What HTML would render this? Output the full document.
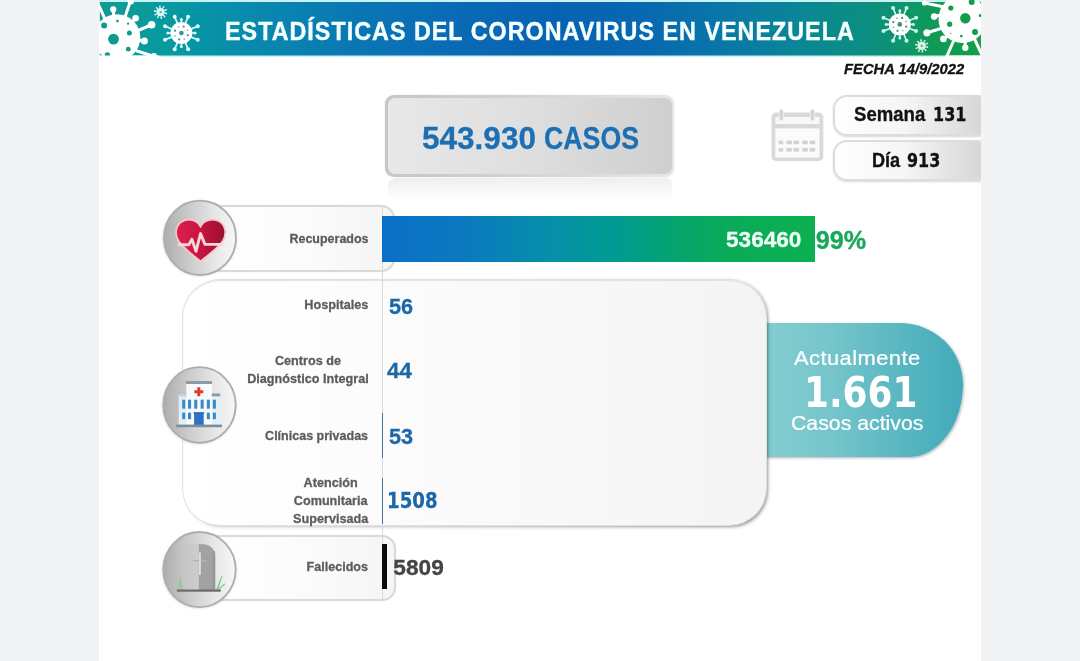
<!DOCTYPE html>
<html lang="es">
<head>
<meta charset="utf-8">
<title>Estadísticas del Coronavirus en Venezuela</title>
<style>
html,body{margin:0;padding:0;}
body{width:1080px;height:661px;overflow:hidden;background:#f2f3f5;font-family:"Liberation Sans",sans-serif;position:relative;}
.abs{position:absolute;}
.sp{display:inline-block;transform-origin:0 50%;white-space:pre;}
.t{position:absolute;white-space:nowrap;line-height:1;font-weight:bold;-webkit-text-stroke:.3px currentColor;}
#sheet{left:99px;top:0;width:882px;height:661px;background:#fff;overflow:hidden;}
.pill{border:2px solid #d9d9d9;box-shadow:0 0 1px #d4d4d4;background:linear-gradient(90deg,#fff 0%,#fbfbfb 55%,#f5f5f5 100%);box-sizing:border-box;}
.circle{width:75px;height:76px;border-radius:50%;background:linear-gradient(90deg,#b4b4b4 0%,#d2d2d2 45%,#f6f6f6 100%);box-shadow:0 0 0 1.5px #b9b9b9, 0 2px 3px rgba(0,0,0,.15);}
.lbl{position:absolute;font-weight:bold;color:#5c5c5c;-webkit-text-stroke:.3px #5c5c5c;font-size:13.5px;line-height:18px;text-align:center;white-space:nowrap;transform-origin:100% 50%;transform:scaleX(.937);}
.num{color:#1b67a8;font-size:22.3px;}
.dj{font-family:"DejaVu Sans","Liberation Sans",sans-serif;}
</style>
</head>
<body>
<div class="abs" id="sheet"></div>
<div class="abs" style="left:0;top:0;width:1080px;height:661px;clip-path:inset(0 99px 0 99px);">

<svg class="abs" style="left:99px;top:0;" width="882" height="58" viewBox="99 0 882 58">
<defs>
<linearGradient id="bg" x1="99" x2="981" y1="0" y2="0" gradientUnits="userSpaceOnUse">
<stop offset="0" stop-color="#0f9b92"/>
<stop offset="0.08" stop-color="#069aa0"/>
<stop offset="0.16" stop-color="#088cac"/>
<stop offset="0.28" stop-color="#0a78b4"/>
<stop offset="0.40" stop-color="#0a6ab6"/>
<stop offset="0.52" stop-color="#0862b2"/>
<stop offset="0.62" stop-color="#0868b0"/>
<stop offset="0.72" stop-color="#0a79a6"/>
<stop offset="0.80" stop-color="#0a8794"/>
<stop offset="0.87" stop-color="#0b8e80"/>
<stop offset="0.92" stop-color="#0e9668"/>
<stop offset="0.95" stop-color="#109a54"/>
<stop offset="1" stop-color="#12a04a"/>
</linearGradient>
<clipPath id="bc"><rect x="99" y="0" width="882" height="57"/></clipPath>
</defs>
<rect x="99" y="0" width="882" height="57" fill="#c9f3f3"/>
<rect x="100" y="2" width="881" height="53.5" fill="url(#bg)"/>
<g clip-path="url(#bc)">
<!-- left big virus -->
<g stroke="#fff" stroke-width="3" stroke-linecap="round" fill="none">
<line x1="114" y1="20" x2="113.3" y2="10"/>
<line x1="125" y1="17" x2="130.5" y2="1"/>
<line x1="132" y1="22" x2="135.5" y2="18.5"/>
<line x1="138" y1="30.500" x2="151" y2="25"/>
<line x1="139" y1="40" x2="144" y2="41"/>
<line x1="137" y1="51" x2="156" y2="57"/>
<line x1="105" y1="19" x2="99" y2="6"/>
</g>
<g fill="#fff">
<circle cx="113.3" cy="9.4" r="3.1"/>
<circle cx="130.8" cy="1.2" r="3.3"/>
<circle cx="135.6" cy="18.3" r="3.3"/>
<circle cx="151.6" cy="24.8" r="3.8"/>
<circle cx="144.4" cy="41" r="3.5"/>
<circle cx="154" cy="56" r="3"/>
<circle cx="117" cy="37.5" r="23.3"/>
</g>
<g fill="#0f9a90">
<circle cx="113.5" cy="39.1" r="5.4"/>
<circle cx="104.1" cy="25.5" r="3"/>
<circle cx="129.4" cy="33.1" r="2.5"/>
<circle cx="128.3" cy="49.2" r="2.4"/>
<circle cx="117.4" cy="21.1" r="1.4"/>
<circle cx="128.1" cy="23.7" r="1.1"/>
<circle cx="107.4" cy="55" r="2.7"/>
</g>
<rect x="99" y="55.5" width="60" height="2.5" fill="#fff"/>
<line x1="189.5" y1="36.4" x2="197.7" y2="39.7" stroke="#dffafa" stroke-width="1.7" stroke-linecap="round"/>
<circle cx="197.7" cy="39.7" r="2.0" fill="#dffafa"/>
<line x1="184.8" y1="41.1" x2="188.1" y2="49.3" stroke="#dffafa" stroke-width="1.7" stroke-linecap="round"/>
<circle cx="188.1" cy="49.3" r="2.0" fill="#dffafa"/>
<line x1="178.0" y1="41.1" x2="174.7" y2="49.3" stroke="#dffafa" stroke-width="1.7" stroke-linecap="round"/>
<circle cx="174.7" cy="49.3" r="2.0" fill="#dffafa"/>
<line x1="173.3" y1="36.4" x2="165.1" y2="39.7" stroke="#dffafa" stroke-width="1.7" stroke-linecap="round"/>
<circle cx="165.1" cy="39.7" r="2.0" fill="#dffafa"/>
<line x1="173.3" y1="29.6" x2="165.1" y2="26.3" stroke="#dffafa" stroke-width="1.7" stroke-linecap="round"/>
<circle cx="165.1" cy="26.3" r="2.0" fill="#dffafa"/>
<line x1="178.0" y1="24.9" x2="174.7" y2="16.7" stroke="#dffafa" stroke-width="1.7" stroke-linecap="round"/>
<circle cx="174.7" cy="16.7" r="2.0" fill="#dffafa"/>
<line x1="184.8" y1="24.9" x2="188.1" y2="16.7" stroke="#dffafa" stroke-width="1.7" stroke-linecap="round"/>
<circle cx="188.1" cy="16.7" r="2.0" fill="#dffafa"/>
<line x1="189.5" y1="29.6" x2="197.7" y2="26.3" stroke="#dffafa" stroke-width="1.7" stroke-linecap="round"/>
<circle cx="197.7" cy="26.3" r="2.0" fill="#dffafa"/>
<line x1="190.2" y1="33.0" x2="195.0" y2="33.0" stroke="#dffafa" stroke-width="1.6" stroke-linecap="round"/>
<circle cx="195.0" cy="33.0" r="1.5" fill="#dffafa"/>
<line x1="181.4" y1="41.8" x2="181.4" y2="46.6" stroke="#dffafa" stroke-width="1.6" stroke-linecap="round"/>
<circle cx="181.4" cy="46.6" r="1.5" fill="#dffafa"/>
<line x1="172.6" y1="33.0" x2="167.8" y2="33.0" stroke="#dffafa" stroke-width="1.6" stroke-linecap="round"/>
<circle cx="167.8" cy="33.0" r="1.5" fill="#dffafa"/>
<line x1="181.4" y1="24.2" x2="181.4" y2="19.4" stroke="#dffafa" stroke-width="1.6" stroke-linecap="round"/>
<circle cx="181.4" cy="19.4" r="1.5" fill="#dffafa"/>
<circle cx="181.4" cy="33.0" r="11" fill="#fff"/>
<circle cx="181.4" cy="33.0" r="2.3" fill="#3a8f9a"/>
<circle cx="187.8" cy="35.3" r="1.15" fill="#3a8f9a" opacity="0.95"/>
<circle cx="184.3" cy="39.2" r="0.9" fill="#3a8f9a" opacity="0.6"/>
<circle cx="179.1" cy="39.4" r="1.15" fill="#3a8f9a" opacity="0.95"/>
<circle cx="175.2" cy="35.9" r="0.9" fill="#3a8f9a" opacity="0.6"/>
<circle cx="175.0" cy="30.7" r="1.15" fill="#3a8f9a" opacity="0.95"/>
<circle cx="178.5" cy="26.8" r="0.9" fill="#3a8f9a" opacity="0.6"/>
<circle cx="183.7" cy="26.6" r="1.15" fill="#3a8f9a" opacity="0.95"/>
<circle cx="187.6" cy="30.1" r="0.9" fill="#3a8f9a" opacity="0.6"/>
<line x1="163.8" y1="12.9" x2="166.3" y2="13.4" stroke="#d9f5f5" stroke-width="1.0" stroke-linecap="round"/>
<circle cx="166.3" cy="13.4" r="0.9" fill="#d9f5f5"/>
<line x1="162.8" y1="14.6" x2="164.5" y2="16.5" stroke="#d9f5f5" stroke-width="1.0" stroke-linecap="round"/>
<circle cx="164.5" cy="16.5" r="0.9" fill="#d9f5f5"/>
<line x1="161.0" y1="15.5" x2="161.3" y2="18.0" stroke="#d9f5f5" stroke-width="1.0" stroke-linecap="round"/>
<circle cx="161.3" cy="18.0" r="0.9" fill="#d9f5f5"/>
<line x1="159.0" y1="15.1" x2="157.7" y2="17.3" stroke="#d9f5f5" stroke-width="1.0" stroke-linecap="round"/>
<circle cx="157.7" cy="17.3" r="0.9" fill="#d9f5f5"/>
<line x1="157.6" y1="13.6" x2="155.3" y2="14.6" stroke="#d9f5f5" stroke-width="1.0" stroke-linecap="round"/>
<circle cx="155.3" cy="14.6" r="0.9" fill="#d9f5f5"/>
<line x1="157.4" y1="11.5" x2="154.9" y2="11.0" stroke="#d9f5f5" stroke-width="1.0" stroke-linecap="round"/>
<circle cx="154.9" cy="11.0" r="0.9" fill="#d9f5f5"/>
<line x1="158.4" y1="9.8" x2="156.7" y2="7.9" stroke="#d9f5f5" stroke-width="1.0" stroke-linecap="round"/>
<circle cx="156.7" cy="7.9" r="0.9" fill="#d9f5f5"/>
<line x1="160.2" y1="8.9" x2="159.9" y2="6.4" stroke="#d9f5f5" stroke-width="1.0" stroke-linecap="round"/>
<circle cx="159.9" cy="6.4" r="0.9" fill="#d9f5f5"/>
<line x1="162.2" y1="9.3" x2="163.5" y2="7.1" stroke="#d9f5f5" stroke-width="1.0" stroke-linecap="round"/>
<circle cx="163.5" cy="7.1" r="0.9" fill="#d9f5f5"/>
<line x1="163.6" y1="10.8" x2="165.9" y2="9.8" stroke="#d9f5f5" stroke-width="1.0" stroke-linecap="round"/>
<circle cx="165.9" cy="9.8" r="0.9" fill="#d9f5f5"/>
<circle cx="160.6" cy="12.2" r="4.1" fill="#d9f5f5"/>
<circle cx="160.6" cy="12.2" r="1.1" fill="#4aa8ae"/>
<!-- right -->
<line x1="907.9" y1="27.8" x2="916.1" y2="31.1" stroke="#c8f7ec" stroke-width="1.7" stroke-linecap="round"/>
<circle cx="916.1" cy="31.1" r="2.0" fill="#c8f7ec"/>
<line x1="903.2" y1="32.5" x2="906.5" y2="40.7" stroke="#c8f7ec" stroke-width="1.7" stroke-linecap="round"/>
<circle cx="906.5" cy="40.7" r="2.0" fill="#c8f7ec"/>
<line x1="896.4" y1="32.5" x2="893.1" y2="40.7" stroke="#c8f7ec" stroke-width="1.7" stroke-linecap="round"/>
<circle cx="893.1" cy="40.7" r="2.0" fill="#c8f7ec"/>
<line x1="891.7" y1="27.8" x2="883.5" y2="31.1" stroke="#c8f7ec" stroke-width="1.7" stroke-linecap="round"/>
<circle cx="883.5" cy="31.1" r="2.0" fill="#c8f7ec"/>
<line x1="891.7" y1="21.0" x2="883.5" y2="17.7" stroke="#c8f7ec" stroke-width="1.7" stroke-linecap="round"/>
<circle cx="883.5" cy="17.7" r="2.0" fill="#c8f7ec"/>
<line x1="896.4" y1="16.3" x2="893.1" y2="8.1" stroke="#c8f7ec" stroke-width="1.7" stroke-linecap="round"/>
<circle cx="893.1" cy="8.1" r="2.0" fill="#c8f7ec"/>
<line x1="903.2" y1="16.3" x2="906.5" y2="8.1" stroke="#c8f7ec" stroke-width="1.7" stroke-linecap="round"/>
<circle cx="906.5" cy="8.1" r="2.0" fill="#c8f7ec"/>
<line x1="907.9" y1="21.0" x2="916.1" y2="17.7" stroke="#c8f7ec" stroke-width="1.7" stroke-linecap="round"/>
<circle cx="916.1" cy="17.7" r="2.0" fill="#c8f7ec"/>
<line x1="908.6" y1="24.4" x2="913.4" y2="24.4" stroke="#c8f7ec" stroke-width="1.6" stroke-linecap="round"/>
<circle cx="913.4" cy="24.4" r="1.5" fill="#c8f7ec"/>
<line x1="899.8" y1="33.2" x2="899.8" y2="38.0" stroke="#c8f7ec" stroke-width="1.6" stroke-linecap="round"/>
<circle cx="899.8" cy="38.0" r="1.5" fill="#c8f7ec"/>
<line x1="891.0" y1="24.4" x2="886.2" y2="24.4" stroke="#c8f7ec" stroke-width="1.6" stroke-linecap="round"/>
<circle cx="886.2" cy="24.4" r="1.5" fill="#c8f7ec"/>
<line x1="899.8" y1="15.6" x2="899.8" y2="10.8" stroke="#c8f7ec" stroke-width="1.6" stroke-linecap="round"/>
<circle cx="899.8" cy="10.8" r="1.5" fill="#c8f7ec"/>
<circle cx="899.8" cy="24.4" r="11" fill="#fff"/>
<circle cx="899.8" cy="24.4" r="2.3" fill="#3a8f7a"/>
<circle cx="906.2" cy="26.7" r="1.15" fill="#3a8f7a" opacity="0.95"/>
<circle cx="902.7" cy="30.6" r="0.9" fill="#3a8f7a" opacity="0.6"/>
<circle cx="897.5" cy="30.8" r="1.15" fill="#3a8f7a" opacity="0.95"/>
<circle cx="893.6" cy="27.3" r="0.9" fill="#3a8f7a" opacity="0.6"/>
<circle cx="893.4" cy="22.1" r="1.15" fill="#3a8f7a" opacity="0.95"/>
<circle cx="896.9" cy="18.2" r="0.9" fill="#3a8f7a" opacity="0.6"/>
<circle cx="902.1" cy="18.0" r="1.15" fill="#3a8f7a" opacity="0.95"/>
<circle cx="906.0" cy="21.5" r="0.9" fill="#3a8f7a" opacity="0.6"/>
<line x1="924.9" y1="46.6" x2="927.4" y2="47.1" stroke="#d9f5e8" stroke-width="1.0" stroke-linecap="round"/>
<circle cx="927.4" cy="47.1" r="0.9" fill="#d9f5e8"/>
<line x1="923.9" y1="48.3" x2="925.6" y2="50.2" stroke="#d9f5e8" stroke-width="1.0" stroke-linecap="round"/>
<circle cx="925.6" cy="50.2" r="0.9" fill="#d9f5e8"/>
<line x1="922.1" y1="49.2" x2="922.4" y2="51.7" stroke="#d9f5e8" stroke-width="1.0" stroke-linecap="round"/>
<circle cx="922.4" cy="51.7" r="0.9" fill="#d9f5e8"/>
<line x1="920.1" y1="48.8" x2="918.8" y2="51.0" stroke="#d9f5e8" stroke-width="1.0" stroke-linecap="round"/>
<circle cx="918.8" cy="51.0" r="0.9" fill="#d9f5e8"/>
<line x1="918.7" y1="47.3" x2="916.4" y2="48.3" stroke="#d9f5e8" stroke-width="1.0" stroke-linecap="round"/>
<circle cx="916.4" cy="48.3" r="0.9" fill="#d9f5e8"/>
<line x1="918.5" y1="45.2" x2="916.0" y2="44.7" stroke="#d9f5e8" stroke-width="1.0" stroke-linecap="round"/>
<circle cx="916.0" cy="44.7" r="0.9" fill="#d9f5e8"/>
<line x1="919.5" y1="43.5" x2="917.8" y2="41.6" stroke="#d9f5e8" stroke-width="1.0" stroke-linecap="round"/>
<circle cx="917.8" cy="41.6" r="0.9" fill="#d9f5e8"/>
<line x1="921.3" y1="42.6" x2="921.0" y2="40.1" stroke="#d9f5e8" stroke-width="1.0" stroke-linecap="round"/>
<circle cx="921.0" cy="40.1" r="0.9" fill="#d9f5e8"/>
<line x1="923.3" y1="43.0" x2="924.6" y2="40.8" stroke="#d9f5e8" stroke-width="1.0" stroke-linecap="round"/>
<circle cx="924.6" cy="40.8" r="0.9" fill="#d9f5e8"/>
<line x1="924.7" y1="44.5" x2="927.0" y2="43.5" stroke="#d9f5e8" stroke-width="1.0" stroke-linecap="round"/>
<circle cx="927.0" cy="43.5" r="0.9" fill="#d9f5e8"/>
<circle cx="921.7" cy="45.9" r="4.1" fill="#d9f5e8"/>
<circle cx="921.7" cy="45.9" r="1.1" fill="#4aa87a"/>
<g stroke="#fff" stroke-width="3" stroke-linecap="round" fill="none">
<line x1="941" y1="28.5" x2="927" y2="32.8"/>
<line x1="941" y1="15" x2="934.2" y2="16.6"/>
<line x1="944" y1="7" x2="925" y2="3"/>
<line x1="948" y1="36" x2="943.4" y2="38.8"/>
<line x1="953.5" y1="41" x2="946.5" y2="57"/>
<line x1="965.2" y1="40" x2="965.2" y2="47.5"/>
<line x1="975" y1="40" x2="982" y2="55"/>
</g>
<g fill="#fff">
<circle cx="926.9" cy="32.8" r="3.6"/>
<circle cx="934.2" cy="16.6" r="3.3"/>
<circle cx="943.4" cy="38.9" r="3.3"/>
<circle cx="965.3" cy="47.8" r="3.2"/>
<circle cx="924.5" cy="3" r="2.6"/>
<circle cx="962.5" cy="19" r="24"/>
</g>
<g fill="#129c4c">
<circle cx="965.3" cy="18.3" r="5.2"/>
<circle cx="950.8" cy="8" r="2.6"/>
<circle cx="949.7" cy="24.2" r="2.6"/>
<circle cx="975" cy="31.9" r="3"/>
<circle cx="961.3" cy="36.1" r="1.3"/>
<circle cx="950.6" cy="33.3" r="0.9" opacity=".6"/>
<circle cx="971.7" cy="2" r="3"/>
<circle cx="980.3" cy="15.5" r="1.6"/>
</g>
<rect x="945" y="55.5" width="36" height="2.5" fill="#fff"/>
</g>
</svg>

<div class="t" id="title" style="left:225.2px;top:19.1px;font-size:25px;color:#f4ffff;-webkit-text-stroke:.4px #f4ffff;letter-spacing:1.1px;transform-origin:0 50%;transform:scaleX(.932);">ESTADÍSTICAS DEL CORONAVIRUS EN VENEZUELA</div>
<div class="t" id="fecha" style="left:843.8px;top:61.3px;font-size:15px;font-style:italic;color:#111;transform-origin:0 50%;transform:scaleX(.985);">FECHA 14/9/2022</div>

<!-- cases box -->
<div class="abs" style="left:385.3px;top:95.3px;width:289px;height:81.7px;border-radius:9px;background:linear-gradient(90deg,#c6c6c6 0%,#d2d2d2 45%,#e6e6e6 100%);box-shadow:0 0 1.5px rgba(0,0,0,.15);"></div>
<div class="abs" style="left:387.8px;top:97.8px;width:284px;height:76.7px;border-radius:7px;background:linear-gradient(90deg,#e8e8e8 0%,#dedede 50%,#cfcfcf 100%);"></div>
<div class="abs" style="left:388px;top:178.3px;width:284px;height:23px;border-radius:7px 7px 0 0;background:linear-gradient(180deg,rgba(226,226,226,.55),rgba(255,255,255,0));filter:blur(.6px);"></div>
<div class="t" id="casos" style="left:421.6px;top:121.8px;font-size:32px;color:#1c6fb3;"><span id="c1" style="display:inline-block;transform-origin:0 50%;transform:scaleX(.985);">543.930</span> <span id="c2" style="display:inline-block;margin-left:-2.1px;transform-origin:0 50%;transform:scaleX(.835);">CASOS</span></div>

<!-- calendar -->
<svg class="abs" style="left:765px;top:104px;" width="64" height="62" viewBox="765 104 64 62">
<defs><filter id="cb" x="-10%" y="-10%" width="120%" height="120%"><feGaussianBlur stdDeviation="0.55"/></filter></defs>
<g filter="url(#cb)">
<rect x="771.5" y="112.6" width="51.8" height="48.3" rx="4.5" fill="#d9d9d9"/>
<rect x="775.3" y="117" width="44.2" height="7" fill="#f8f8f8"/>
<rect x="775.3" y="128.4" width="44.2" height="29.2" fill="#fbfbfb"/>
<rect x="779.3" y="109.3" width="3.8" height="11.4" rx="1.9" fill="#d2d2d2" stroke="#ededed" stroke-width="1"/>
<rect x="810.5" y="109.3" width="3.8" height="11.4" rx="1.9" fill="#d2d2d2" stroke="#ededed" stroke-width="1"/>
<g fill="#d3d3d3">
<rect x="778.6" y="140.6" width="4.6" height="3.6"/><rect x="786.3" y="140.6" width="5.6" height="3.6"/><rect x="793.5" y="140.600" width="5.6" height="3.6"/><rect x="802.2" y="140.600" width="5.6" height="3.6"/><rect x="809.6" y="140.600" width="5.6" height="3.6"/>
<rect x="778.6" y="148" width="4.6" height="3.6"/><rect x="786.3" y="148" width="5.6" height="3.6"/><rect x="793.500" y="148" width="5.6" height="3.6"/><rect x="802.200" y="148" width="5.6" height="3.6"/><rect x="809.600" y="148" width="5.6" height="3.6"/>
</g>
</g>
</svg>

<!-- semana / dia -->
<div class="abs" style="left:833.2px;top:95.2px;width:160px;height:41px;border-radius:14px;background:linear-gradient(90deg,#fff 0%,#f5f5f5 45%,#d8d8d8 92%);border:2.4px solid #dddddd;box-sizing:border-box;box-shadow:0 1px 2px rgba(0,0,0,.16);"></div>
<div class="abs" style="left:833.2px;top:140.4px;width:160px;height:40.6px;border-radius:14px;background:linear-gradient(90deg,#fff 0%,#f5f5f5 45%,#d8d8d8 92%);border:2.4px solid #dddddd;box-sizing:border-box;box-shadow:0 1px 2px rgba(0,0,0,.16);"></div>
<div class="t" id="semana" style="left:854.2px;top:104.6px;font-size:19.3px;color:#111;"><span class="sp" style="transform:scaleX(.963);">Semana</span> <span class="sp dj" style="margin-left:-.76px;font-size:19px;transform:scaleX(.842);">131</span></div>
<div class="t" id="dia" style="left:871.6px;top:150.5px;font-size:19.3px;color:#111;"><span class="sp" style="transform:scaleX(.94);">Día</span> <span class="sp dj" style="margin-left:.04px;font-size:19px;transform:scaleX(.84);">913</span></div>

<!-- teal box -->
<div class="abs" style="left:766px;top:323.3px;width:196.800px;height:134.1px;border-radius:0 63px 54px 0 / 0 61px 73px 0;background:linear-gradient(90deg,#83cdd1 0%,#74c4ca 35%,#41aab9 100%);box-shadow:1px 1px 3px rgba(0,0,0,.3);"></div>
<div class="t" id="act" style="-webkit-text-stroke:.2px #fff;left:793.6px;top:347px;font-size:21px;font-weight:normal;color:#fff;transform-origin:0 50%;letter-spacing:.4px;transform:scaleX(1.045);">Actualmente</div>
<div class="t" id="n1661" style="-webkit-text-stroke:0;left:804.3px;top:371.4px;font-size:43px;color:#fff;font-family:'DejaVu Sans','Liberation Sans',sans-serif;transform-origin:0 50%;transform:scaleX(.834);">1.661</div>
<div class="t" id="cact" style="-webkit-text-stroke:.2px #fff;left:790.8px;top:412px;font-size:21px;font-weight:normal;color:#fff;transform-origin:0 50%;transform:scaleX(1.013);">Casos activos</div>

<!-- big panel -->
<div class="abs" style="left:163px;top:260px;width:630px;height:290px;-webkit-mask-image:linear-gradient(90deg,rgba(0,0,0,.5) 0%,rgba(0,0,0,.62) 40%,#000 85%);mask-image:linear-gradient(90deg,rgba(0,0,0,.5) 0%,rgba(0,0,0,.62) 40%,#000 85%);">
<div class="abs" style="left:20px;top:20px;width:583.4px;height:244.8px;border-radius:37px;background:#f4f4f4;box-shadow:2px 1.5px 3.5px rgba(0,0,0,.42);"></div>
</div>
<div class="abs" style="left:183px;top:280px;width:583.4px;height:244.8px;border-radius:37px;background:linear-gradient(90deg,#ffffff 0%,#fbfbfb 40%,#f4f4f4 100%);box-shadow:0 0 0 1px #e1e1e1, inset 0 1px 1px #e2e2e2;"></div>

<!-- pills -->
<div class="abs pill" style="left:200px;top:205px;width:195px;height:67px;border-radius:14px;"></div>
<div class="abs pill" style="left:200px;top:535px;width:196px;height:66px;border-radius:14px;"></div>

<!-- axis -->
<div class="abs" style="left:381.7px;top:205px;width:1.2px;height:396px;background:#d9d9d9;"></div>

<!-- bar -->
<div class="abs" style="left:381.9px;top:216.2px;width:432.9px;height:45.5px;background:linear-gradient(90deg,#0b70c8 0%,#0b7abf 20%,#0590a8 40%,#009c90 55%,#06a46c 68%,#0aab58 80%,#0cb050 100%);"></div>
<div class="t" id="n536" style="left:726px;top:228.6px;font-size:22.6px;color:#f2fff8;transform-origin:0 50%;">536460</div>
<div class="t" id="n99" style="left:815.7px;top:227.6px;font-size:25.2px;color:#17a85a;transform-origin:0 50%;">99%</div>

<!-- small bars -->
<div class="abs" style="left:381.7px;top:413.3px;width:1.1px;height:45.2px;background:#4f6f9c;"></div>
<div class="abs" style="left:381.7px;top:478.2px;width:1.2px;height:46.3px;background:#4f6f9c;"></div>
<div class="abs" style="left:382.3px;top:544.2px;width:5px;height:45.2px;background:#0b0b0b;"></div>

<!-- circles -->
<svg class="abs" style="left:150px;top:190px;" width="100" height="430" viewBox="150 190 100 430">
<defs>
<linearGradient id="cg" x1="0" x2="1" y1="0" y2="0">
<stop offset="0" stop-color="#adadad"/><stop offset="0.35" stop-color="#cbcbcb"/><stop offset="0.7" stop-color="#e6e6e6"/><stop offset="1" stop-color="#f7f7f7"/>
</linearGradient>
<linearGradient id="hg" x1="0" x2="1" y1="0" y2="0">
<stop offset="0" stop-color="#e01f4f"/><stop offset="0.5" stop-color="#c4153f"/><stop offset="1" stop-color="#9a1030"/>
</linearGradient>
<filter id="cs" x="-20%" y="-20%" width="140%" height="140%"><feGaussianBlur stdDeviation="1.6"/></filter>
</defs>
<!-- circle 1 : heart -->
<ellipse cx="199.6" cy="238.6" rx="36.5" ry="37" fill="#000" opacity=".2" filter="url(#cs)"/>
<ellipse cx="200" cy="237.8" rx="36" ry="37.2" fill="url(#cg)" stroke="#adadad" stroke-width="1.8"/>
<path d="M200.5 227 C197.5 220 188.5 217.700 182 221.500 C175.300 225.800 174.500 234.500 178.600 241 C183.500 248.500 194 255.800 200.500 261.400 C207 255.800 217.800 248.500 222.700 241 C226.800 234.500 226 225.800 219.500 221.500 C213 217.700 203.500 220 200.500 227 Z" fill="url(#hg)" stroke="#f8c6cf" stroke-width="1.7" stroke-linejoin="round"/>
<path d="M179.300 244.700 L188.800 244.700 L191.900 239.300 L196 251.300 L200.500 233.600 L205 244.400 L222.300 244.400" fill="none" stroke="#fbd3da" stroke-width="2.9" stroke-linejoin="round" stroke-linecap="round"/>
<!-- circle 2 : hospital -->
<ellipse cx="199.1" cy="406.1" rx="36.5" ry="37.6" fill="#000" opacity=".2" filter="url(#cs)"/>
<ellipse cx="199.5" cy="405" rx="36.2" ry="37.8" fill="url(#cg)" stroke="#adadad" stroke-width="1.8"/>
<rect x="178.700" y="396" width="41" height="29.500" fill="#e1eff9"/>
<rect x="186.300" y="384" width="25.800" height="41.500" fill="#f6fafd"/>
<rect x="185.700" y="381" width="26.300" height="3" fill="#8b9ca8"/>
<rect x="211.800" y="393.500" width="8.400" height="2.800" fill="#8b9ca8"/>
<rect x="177.800" y="394.600" width="8.500" height="2" fill="#c9d6de"/>
<g fill="#3d8ac4">
<rect x="182.200" y="399.700" width="3" height="9"/><rect x="188" y="399.700" width="3.100" height="9"/><rect x="194.200" y="399.700" width="3.100" height="9"/><rect x="200.600" y="399.700" width="3.100" height="9"/><rect x="206.800" y="399.700" width="3.100" height="9"/><rect x="212.800" y="399.700" width="3.100" height="9"/>
<rect x="182.200" y="412.600" width="3" height="6.600"/><rect x="188" y="412.600" width="3.100" height="6.600"/><rect x="206.800" y="412.600" width="3.100" height="6.600"/><rect x="212.800" y="412.600" width="3.100" height="6.600"/>
</g>
<rect x="194.100" y="413.300" width="9.600" height="12.300" fill="#2b72c4"/>
<rect x="193.600" y="412.200" width="10.600" height="1.600" fill="#255fa8"/>
<path d="M197.300 387.300 h3 v3 h3 v3 h-3 v3 h-3 v-3 h-3 v-3 h3 z" fill="#e23b2c"/>
<rect x="176.300" y="424.600" width="45.600" height="2.600" fill="#7d8d98"/>
<!-- circle 3 : tombstone -->
<ellipse cx="199.1" cy="570.7" rx="36.5" ry="37.4" fill="#000" opacity=".2" filter="url(#cs)"/>
<ellipse cx="199.5" cy="569.6" rx="36.2" ry="37.6" fill="url(#cg)" stroke="#adadad" stroke-width="1.8"/>
<path d="M184 590 V544.500 H204 C210.500 544.500 215 549.500 215 556 V590 Z" fill="#c6c6c6" opacity=".55"/>
<path d="M198.800 590 V544.300 H203 C210.500 544.300 215.200 550 215.200 557 V590 Z" fill="#a2a2a2"/>
<rect x="212.800" y="551" width="2.400" height="39" fill="#8e8e8e" opacity=".6"/>
<rect x="192.700" y="560" width="13.800" height="1.400" fill="#b2b2b2"/>
<rect x="199.200" y="552.500" width="1.500" height="22.500" fill="#ececec"/>
<g stroke="#7cc98a" stroke-width="1.1" stroke-linecap="round" fill="none">
<path d="M178.600 589.500 L180.500 578.400"/><path d="M181.800 589.500 L180.800 582"/>
<path d="M216.800 589.500 L221.800 576.600"/><path d="M218.300 589.500 L224.600 584"/><path d="M217.500 589.500 L220 581.500"/>
</g>
<rect x="176.800" y="589.500" width="44" height="2.200" fill="#6b6b6b"/>
</svg>

<!-- labels -->
<div class="lbl" id="l1" style="right:711.6px;top:229.5px;transform:scaleX(.925);">Recuperados</div>
<div class="lbl" id="l2" style="right:711.6px;top:296px;">Hospitales</div>
<div class="lbl" id="l3" style="right:711.6px;top:352px;">Centros de<br>Diagnóstico Integral</div>
<div class="lbl" id="l4" style="right:711.6px;top:427px;transform:scaleX(.927);">Clínicas privadas</div>
<div class="lbl" id="l5" style="right:711.6px;top:474px;">Atención<br>Comunitaria<br>Supervisada</div>
<div class="lbl" id="l6" style="right:711.5px;top:557.5px;transform:scaleX(.93);">Fallecidos</div>

<!-- numbers -->
<div class="t num" id="v56" style="left:389.1px;top:295.7px;transform-origin:0 50%;transform:scaleX(.97);">56</div>
<div class="t num" id="v44" style="left:387px;top:359.8px;transform-origin:0 50%;">44</div>
<div class="t num" id="v53" style="left:389.4px;top:425.8px;transform-origin:0 50%;transform:scaleX(.97);">53</div>
<div class="t num dj" id="v1508" style="left:386.6px;top:490px;font-size:21.8px;transform-origin:0 50%;transform:scaleX(.833);">1508</div>
<div class="t num" id="v5809" style="left:393.3px;top:556px;color:#444;font-size:22.7px;transform-origin:0 50%;">5809</div>
</div>
</body>
</html>
